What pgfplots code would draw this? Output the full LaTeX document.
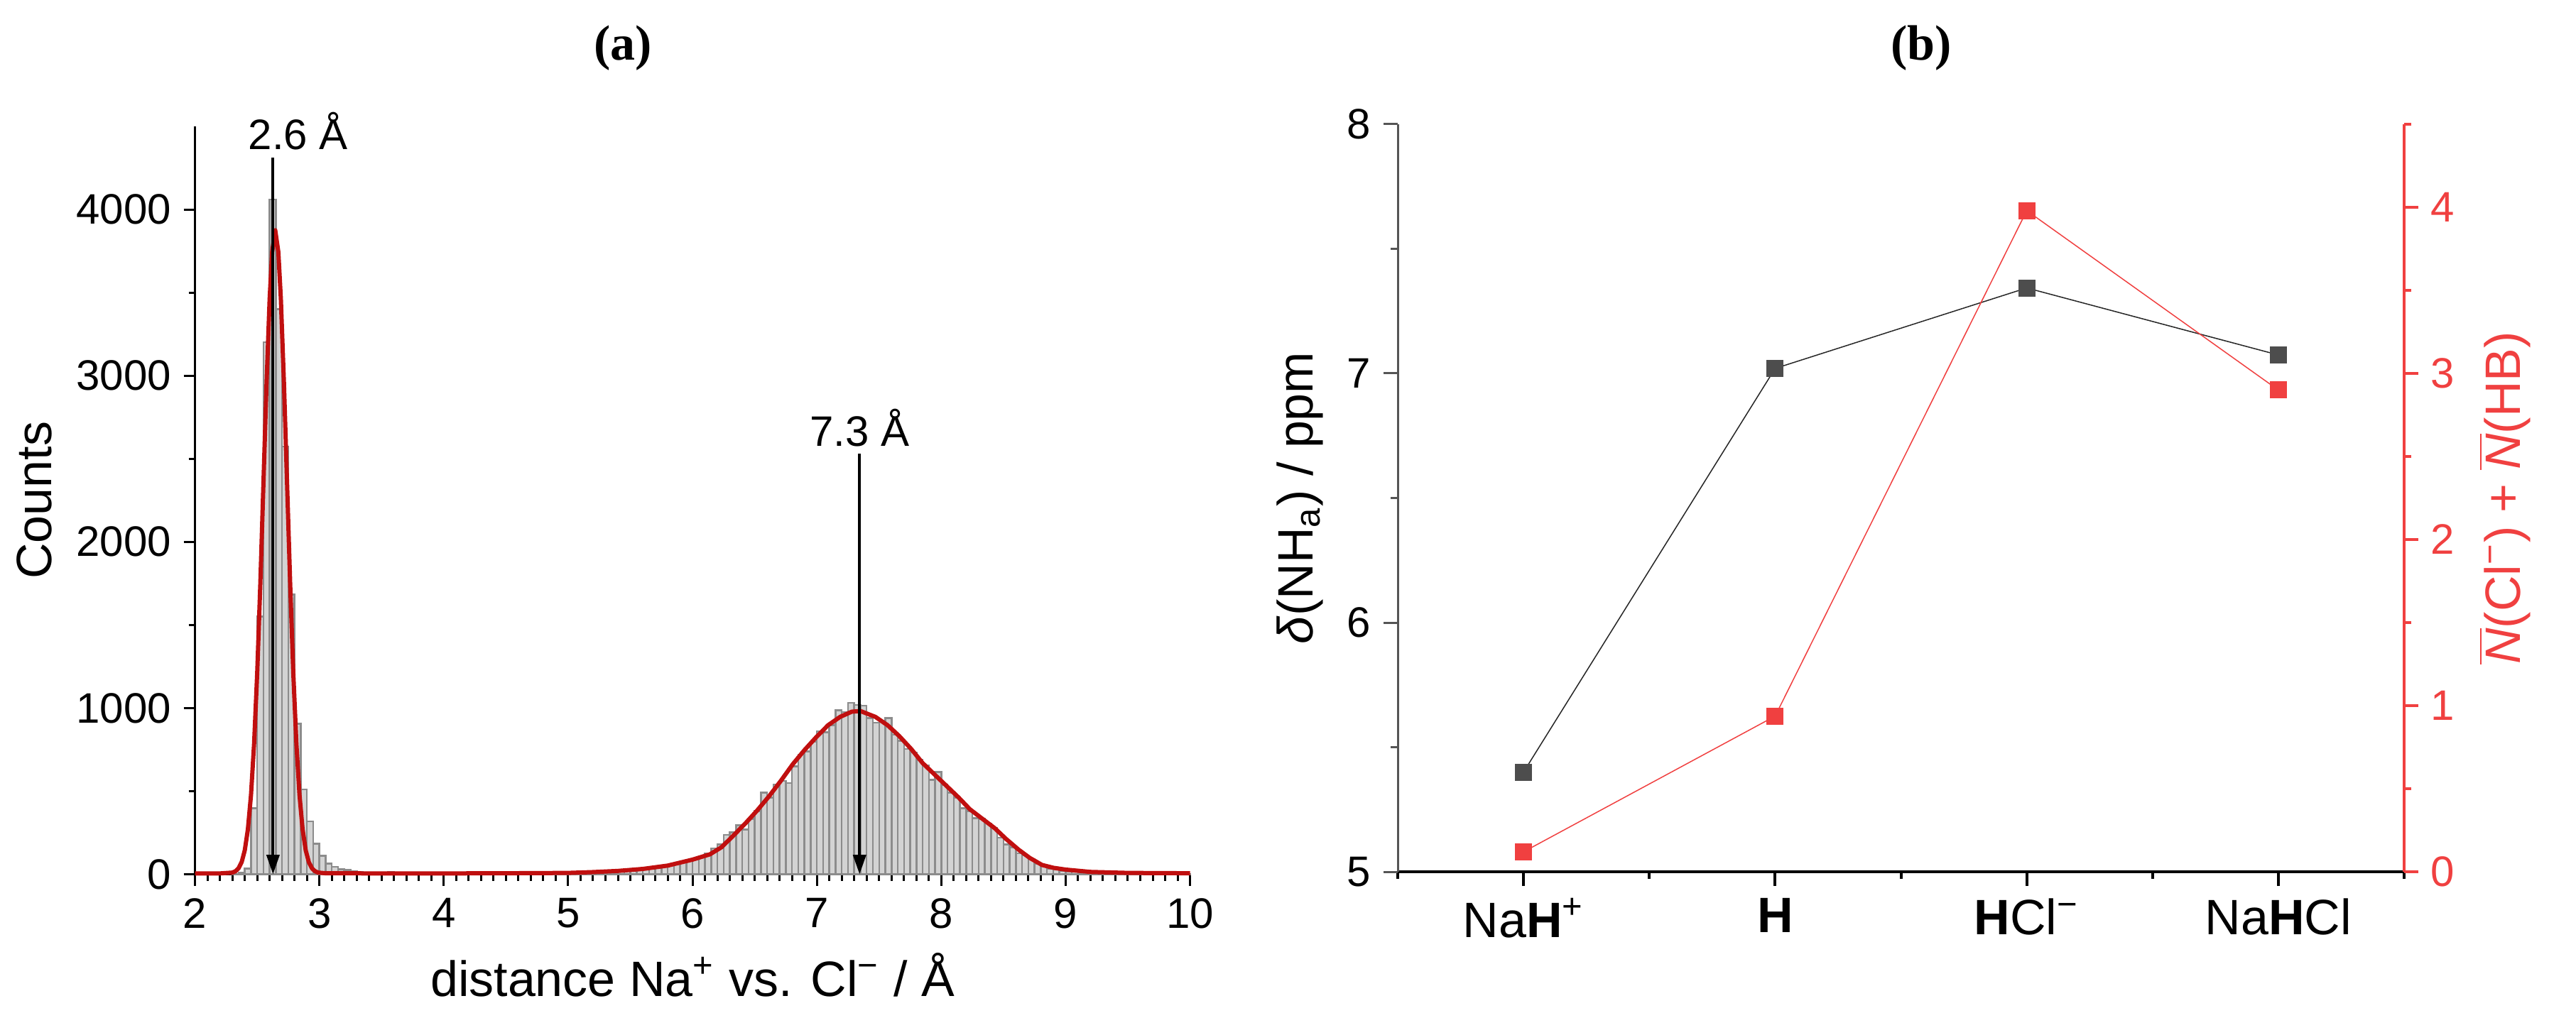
\documentclass[border=0pt]{standalone}
\usepackage{fontspec}
\setmainfont{Liberation Sans}
\newfontfamily\titlefont{Liberation Serif}
\usepackage{pgfplots}
\pgfplotsset{compat=1.18}
\usetikzlibrary{arrows.meta}
\definecolor{histfill}{HTML}{D3D3D3}
\definecolor{histdraw}{HTML}{8C8C8C}
\definecolor{fitred}{HTML}{C00F0F}
\definecolor{mred}{HTML}{F04040}
\definecolor{mgray}{HTML}{4D4D4D}
\definecolor{axgray}{HTML}{555555}
\begin{document}
\begin{tikzpicture}
\useasboundingbox (0,0) rectangle (725.4pt,286.6pt);
\begin{axis}[
  at={(54.92pt,40.3pt)}, anchor=south west, scale only axis,
  width=280.2pt, height=210.7pt,
  xmin=2, xmax=10, ymin=0, ymax=4500,
  axis x line*=bottom, axis y line*=left,
  axis line style={line width=0.7pt},
  xtick={2,...,10}, minor x tick num=9,
  ytick={0,1000,2000,3000,4000}, minor y tick num=1,
  tick align=outside,
  major tick length=3.2pt, minor tick length=1.8pt,
  every tick/.style={black, line width=0.6pt},
  ticklabel style={font=\fontsize{12}{14}\selectfont},
  /pgf/number format/assume math mode=true,
  /pgf/number format/set thousands separator={},
  scaled y ticks=false,
  label style={font=\fontsize{14}{16}\selectfont},
  xlabel={distance Na\textsuperscript{+} vs. Cl\textsuperscript{−} / Å},
  ylabel={Counts},
  clip=false,
]
\addplot[ybar interval, fill=histfill, draw=histdraw, line width=0.5pt] table {
x y
2.30 3
2.35 10
2.40 34
2.45 397
2.50 1550
2.55 3202
2.60 4061
2.65 3401
2.70 2573
2.75 1683
2.80 905
2.85 510
2.90 319
2.95 183
3.00 112
3.05 65
3.10 45
3.15 30
3.20 25
3.25 18
3.30 14
3.35 11
3.40 10
3.45 8
3.50 9
3.55 12
3.60 7
3.65 6
3.70 5
3.75 6
3.80 11
3.85 8
3.90 5
3.95 4
4.00 4
4.05 3
4.10 4
4.15 3
4.20 3
4.25 4
4.30 3
4.35 3
4.40 2
4.45 3
4.50 3
4.55 4
4.60 3
4.65 4
4.70 4
4.75 5
4.80 4
4.85 5
4.90 6
4.95 6
5.00 7
5.05 8
5.10 9
5.15 10
5.20 12
5.25 13
5.30 15
5.35 17
5.40 19
5.45 22
5.50 24
5.55 28
5.60 31
5.65 36
5.70 41
5.75 47
5.80 54
5.85 62
5.90 70
5.95 80
6.00 92
6.05 108
6.10 125
6.15 156
6.20 180
6.25 237
6.30 251
6.35 294
6.40 270
6.45 334
6.50 380
6.55 491
6.60 462
6.65 541
6.70 562
6.75 548
6.80 650
6.85 719
6.90 740
6.95 797
7.00 861
7.05 854
7.10 897
7.15 987
7.20 975
7.25 1032
7.30 1018
7.35 1015
7.40 939
7.45 911
7.50 925
7.55 939
7.60 840
7.65 804
7.70 754
7.75 733
7.80 690
7.85 655
7.90 569
7.95 615
8.00 538
8.05 491
8.10 462
8.15 398
8.20 380
8.25 337
8.30 334
8.35 306
8.40 277
8.45 220
8.50 180
8.55 163
8.60 127
8.65 113
8.70 92
8.75 63
8.80 49
8.85 35
8.90 28
8.95 21
9.00 17
9.05 14
9.10 12
9.15 10
9.20 9
9.25 8
9.30 7
9.35 6
9.40 5
9.45 5
9.50 4
9.55 4
9.60 3
9.65 3
9.70 3
9.75 2
9.80 2
9.85 2
9.90 2
9.95 1
10.00 0
};
\addplot[fitred, line width=1.2pt, line join=round] coordinates {
(2.00,5) (2.20,5) (2.30,10) (2.325,18) (2.35,36) (2.375,73) (2.40,144)
(2.425,270) (2.45,476) (2.475,786) (2.50,1212) (2.525,1747) (2.55,2352)
(2.575,2954) (2.60,3464) (2.62,3743) (2.645,3875) (2.67,3743) (2.69,3464)
(2.715,2954) (2.74,2352) (2.765,1747) (2.79,1212) (2.815,786) (2.84,476)
(2.865,270) (2.89,144) (2.915,73) (2.94,36) (2.965,18) (2.99,10) (3.05,6)
(3.5,5) (4.0,5) (4.5,6) (5.0,8) (5.2,13) (5.4,20) (5.6,32) (5.8,52) (6.0,88)
(6.14,120) (6.234,163) (6.33,234) (6.425,306) (6.52,384) (6.615,469)
(6.71,562) (6.806,662) (6.90,747) (6.996,826) (7.09,897) (7.187,947)
(7.28,978) (7.35,982) (7.47,947) (7.568,897) (7.66,833) (7.758,754)
(7.85,669) (7.949,598) (8.04,533) (8.139,462) (8.23,391) (8.33,334)
(8.43,277) (8.52,213) (8.62,149) (8.71,99) (8.81,56) (8.90,39) (9.0,28)
(9.2,14) (9.5,8) (10,6)
};
\draw[line width=0.8pt, -{Triangle[length=5.5pt,width=3.6pt]}] (axis cs:2.627,4312) -- (axis cs:2.627,0);
\node[anchor=base, inner sep=0pt, font=\fontsize{12}{14}\selectfont] at (axis cs:2.83,4360) {2.6 Å};
\draw[line width=0.8pt, -{Triangle[length=5.5pt,width=3.6pt]}] (axis cs:7.343,2530) -- (axis cs:7.343,0);
\node[anchor=base, inner sep=0pt, font=\fontsize{12}{14}\selectfont] at (axis cs:7.343,2575) {7.3 Å};
\end{axis}

\begin{axis}[
  at={(393.6pt,41pt)}, anchor=south west, scale only axis,
  width=283.4pt, height=210.6pt,
  xmin=0.5, xmax=4.5, ymin=5, ymax=8,
  axis x line*=bottom, axis y line*=left,
  x axis line style={line width=0.9pt, black},
  y axis line style={line width=0.6pt, axgray},
  xtick={1,2,3,4}, minor xtick={0.5,1.5,2.5,3.5,4.5},
  xticklabels={Na\textbf{H}\textsuperscript{+}, \textbf{H}, \textbf{H}Cl\textsuperscript{−}, Na\textbf{H}Cl},
  ytick={5,6,7,8}, minor ytick={5.5,6.5,7.5},
  tick align=outside, major tick length=4pt, minor tick length=2pt,
  xtick style={black, line width=0.8pt},
  ytick style={axgray, line width=0.6pt},
  yticklabel style={font=\fontsize{12}{14}\selectfont},
  xticklabel style={font=\fontsize{14}{16}\selectfont},
  ylabel={\textit{δ}(NH\textsubscript{a}) / ppm},
  ylabel style={font=\fontsize{14}{16}\selectfont},
  /pgf/number format/assume math mode=true,
  clip=false,
]
\addplot[color=black!85, line width=0.3pt, mark=square*, mark size=2.3pt,
  mark options={solid, fill=mgray, draw=mgray, line width=0.2pt}]
  coordinates {(1,5.40) (2,7.02) (3,7.343) (4,7.074)};
\end{axis}

\begin{axis}[
  at={(393.6pt,41pt)}, anchor=south west, scale only axis,
  width=283.4pt, height=210.6pt,
  xmin=0.5, xmax=4.5, ymin=0, ymax=4.5,
  axis x line=none, axis y line*=right,
  y axis line style={line width=0.8pt, mred},
  ytick={0,1,2,3,4}, minor ytick={0.5,1.5,2.5,3.5,4.5},
  tick align=outside, major tick length=4pt, minor tick length=2pt,
  ytick style={mred, line width=0.8pt},
  yticklabel style={mred, font=\fontsize{12}{14}\selectfont},
  ylabel={\ensuremath{\overline{\mbox{\textit{N}}}}(Cl\textsuperscript{−}) + \ensuremath{\overline{\mbox{\textit{N}}}}(HB)},
  ylabel style={mred, font=\fontsize{14}{16}\selectfont},
  /pgf/number format/assume math mode=true,
  clip=false,
]
\addplot[color=mred, line width=0.3pt, mark=square*, mark size=2.3pt,
  mark options={solid, fill=mred, draw=mred, line width=0.2pt}]
  coordinates {(1,0.12) (2,0.937) (3,3.98) (4,2.90)};
\end{axis}

\node[font=\titlefont\bfseries\fontsize{14}{16}\selectfont] at (175.4pt,273pt) {(a)};
\node[font=\titlefont\bfseries\fontsize{14}{16}\selectfont] at (541pt,273pt) {(b)};
\end{tikzpicture}
\end{document}
